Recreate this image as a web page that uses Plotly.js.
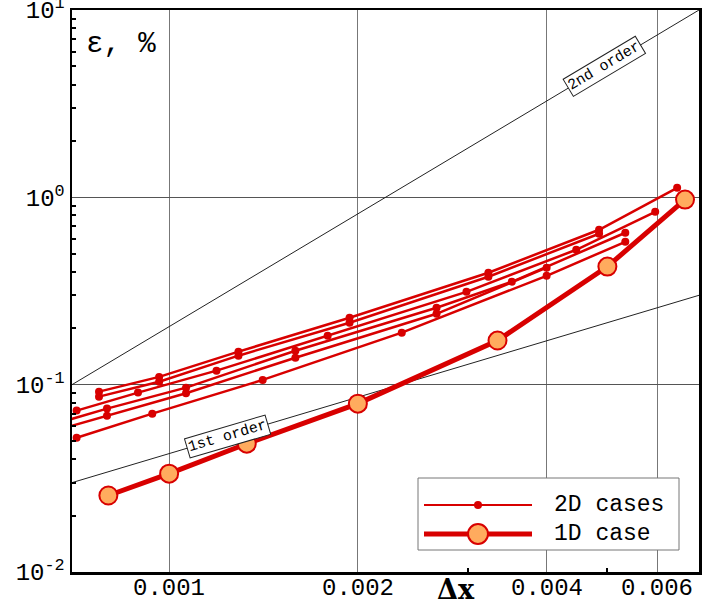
<!DOCTYPE html>
<html><head><meta charset="utf-8">
<script src="https://cdn.plot.ly/plotly-3.0.1.min.js"></script>
<style>html,body{margin:0;padding:0;background:#fff}#chart{width:702px;height:606px}</style>
</head><body><div id="chart"></div>
<script>
// reference order lines
const refX = [0.0007, 0.007];
const firstOrderY = [0.03, 0.3];
const secondOrderY = [0.1, 10];

// 1D case
const x1D = [0.0008, 0.001, 0.00133, 0.002, 0.00334, 0.005, 0.00665];
const y1D = [0.0256, 0.0335, 0.0484, 0.0792, 0.172, 0.427, 0.973];

// 2D cases
const x2D_a = [0.000773, 0.000964, 0.00129, 0.00194, 0.00323, 0.00485, 0.00646];
const y2D_a = [0.0918, 0.110, 0.150, 0.2277, 0.396, 0.671, 1.124];
const x2D_b = [0.000773, 0.000964, 0.00129, 0.00194, 0.00323, 0.00485];
const y2D_b = [0.0863, 0.1037, 0.1428, 0.2142, 0.377, 0.639];
const x2D_c = [0.000712, 0.000892, 0.00119, 0.00179, 0.00298, 0.00446, 0.00596];
const y2D_c = [0.0727, 0.0907, 0.1188, 0.1825, 0.313, 0.525, 0.837];
const x2D_d = [0.00066, 0.000796, 0.001064, 0.00159, 0.00267, 0.00352, 0.00534];
const y2D_d = [0.062, 0.0745, 0.0964, 0.1518, 0.2575, 0.354, 0.647];
const x2D_e = [0.00066, 0.000796, 0.001064, 0.00159, 0.00267, 0.0040];
const y2D_e = [0.057, 0.0683, 0.090, 0.1393, 0.239, 0.421];
const x2D_f = [0.000712, 0.00094, 0.00141, 0.00235, 0.0040, 0.00534];
const y2D_f = [0.0521, 0.070, 0.106, 0.1894, 0.381, 0.579];

// ticks
const xTickVals = [0.001, 0.002, 0.004, 0.006];
const xTickText = ['0.001', '0.002', '0.004', '0.006'];
const xMinorVals = [0.003, 0.005];
const yTickVals = [0.01, 0.1, 1, 10];
const yTickText = ['10<sup>-2</sup>', '10<sup>-1</sup>', '10<sup>0</sup>', '10<sup>1</sup>'];
const yMinorVals = [0.02,0.03,0.04,0.05,0.06,0.07,0.08,0.09,0.2,0.3,0.4,0.5,0.6,0.7,0.8,0.9,2,3,4,5,6,7,8,9];

// labels
const legendLabels = ['2D cases', '1D case'];
const yLabel = 'ε, %';
const xLabel = 'Δx';
const firstOrderLabel = '1st order';
const secondOrderLabel = '2nd order';
const firstLabelPos = [0.00124, 0.0531];
const secondLabelPos = [0.00494, 4.98];

const RED = '#d80000';
const ORANGE = '#ffab5e';
const MONO = 'Liberation Mono, Courier New, monospace';

const traces = [];
traces.push({x: refX, y: secondOrderY, mode: 'lines', line: {color: '#222', width: 1}, showlegend: false, hoverinfo: 'skip'});
traces.push({x: refX, y: firstOrderY, mode: 'lines', line: {color: '#222', width: 1}, showlegend: false, hoverinfo: 'skip'});
const series2D = [[x2D_a, y2D_a], [x2D_b, y2D_b], [x2D_c, y2D_c], [x2D_d, y2D_d], [x2D_e, y2D_e], [x2D_f, y2D_f]];
series2D.forEach(s => traces.push({
  x: s[0], y: s[1], mode: 'lines+markers',
  line: {color: RED, width: 2.5}, marker: {color: RED, size: 8},
  showlegend: false, cliponaxis: true
}));
traces.push({
  x: x1D, y: y1D, mode: 'lines+markers',
  line: {color: RED, width: 5},
  marker: {color: ORANGE, size: 18, line: {color: RED, width: 2}},
  showlegend: false
});

const L = 72, T = 10, PW = 627, PH = 562;
const px = v => (v - L) / PW;
const py = v => (T + PH - v) / PH;

const shapes = [
  {type: 'rect', xref: 'paper', yref: 'paper', x0: px(418), x1: px(679), y0: py(550), y1: py(478),
   fillcolor: 'white', line: {color: '#777', width: 1}},
  {type: 'line', xref: 'paper', yref: 'paper', x0: px(424), x1: px(532), y0: py(505), y1: py(505),
   line: {color: RED, width: 2}},
  {type: 'circle', xref: 'paper', yref: 'paper', xsizemode: 'pixel', ysizemode: 'pixel',
   xanchor: px(478), yanchor: py(505), x0: -4, x1: 4, y0: -4, y1: 4, fillcolor: RED, line: {color: RED, width: 0}},
  {type: 'line', xref: 'paper', yref: 'paper', x0: px(424), x1: px(532), y0: py(534), y1: py(534),
   line: {color: RED, width: 5}},
  {type: 'circle', xref: 'paper', yref: 'paper', xsizemode: 'pixel', ysizemode: 'pixel',
   xanchor: px(478), yanchor: py(534), x0: -10, x1: 10, y0: -10, y1: 10, fillcolor: ORANGE, line: {color: RED, width: 2}}
];

const annotations = [
  {xref: 'paper', yref: 'paper', x: px(552), y: py(505), xanchor: 'left', yanchor: 'middle', showarrow: false,
   text: legendLabels[0], font: {family: MONO, size: 23, color: '#000'}},
  {xref: 'paper', yref: 'paper', x: px(552), y: py(534), xanchor: 'left', yanchor: 'middle', showarrow: false,
   text: legendLabels[1], font: {family: MONO, size: 23, color: '#000'}},
  {xref: 'paper', yref: 'paper', x: px(84), y: py(44), xanchor: 'left', yanchor: 'middle', showarrow: false,
   text: yLabel, font: {family: MONO, size: 29, color: '#000'}},
  {xref: 'paper', yref: 'paper', x: px(456), y: py(589), xanchor: 'center', yanchor: 'middle', showarrow: false,
   text: '<b>' + xLabel + '</b>', font: {family: 'DejaVu Serif, serif', size: 27, color: '#000'}},
  {x: Math.log10(secondLabelPos[0]), y: Math.log10(secondLabelPos[1]), showarrow: false, textangle: -30.8,
   text: secondOrderLabel, bgcolor: 'white', bordercolor: '#222', borderwidth: 1, borderpad: 1,
   font: {family: MONO, size: 15, color: '#000'}},
  {x: Math.log10(firstLabelPos[0]), y: Math.log10(firstLabelPos[1]), showarrow: false, textangle: -16.4,
   text: firstOrderLabel, bgcolor: 'white', bordercolor: '#222', borderwidth: 1, borderpad: 1,
   font: {family: MONO, size: 15, color: '#000'}}
];
// x tick labels placed just under the frame
xTickVals.forEach((v, i) => annotations.push({
  x: Math.log10(v), xref: 'x', yref: 'paper', y: py(588), xanchor: 'center', yanchor: 'middle',
  showarrow: false, text: xTickText[i], font: {family: MONO, size: 24, color: '#000'}
}));

const layout = {
  width: 702, height: 606,
  margin: {l: L, r: 702 - L - PW, t: T, b: 606 - T - PH},
  paper_bgcolor: 'white', plot_bgcolor: 'white',
  showlegend: false,
  xaxis: {
    type: 'log', range: [Math.log10(0.0007), Math.log10(0.007)],
    tickmode: 'array', tickvals: xTickVals, ticktext: xTickText, showticklabels: false,
    ticks: '', showgrid: true, gridcolor: '#777', gridwidth: 1,
    showline: true, mirror: true, linecolor: '#000', linewidth: 2.5,
    zeroline: false,
    minor: {tickmode: 'array', tickvals: xMinorVals, ticks: 'inside', ticklen: 4, tickwidth: 2, tickcolor: '#000', showgrid: false}
  },
  yaxis: {
    type: 'log', range: [-2, 1],
    tickmode: 'array', tickvals: yTickVals, ticktext: yTickText,
    ticks: '', showgrid: true, gridcolor: '#555', gridwidth: 1,
    showline: true, mirror: true, linecolor: '#000', linewidth: 2.5,
    zeroline: false, ticklabeloverflow: 'allow',
    tickfont: {family: MONO, size: 24, color: '#000'},
    minor: {tickmode: 'array', tickvals: yMinorVals, ticks: 'inside', ticklen: 4, tickwidth: 2, tickcolor: '#000', showgrid: false}
  },
  shapes: shapes,
  annotations: annotations
};

Plotly.newPlot('chart', traces, layout, {displayModeBar: false, staticPlot: true});
</script>
</body></html>
